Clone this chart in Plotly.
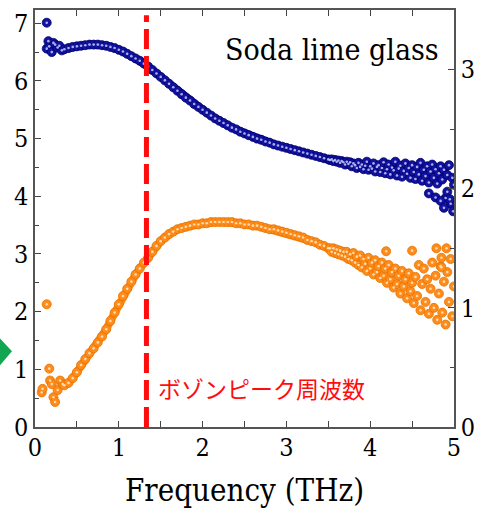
import plotly.graph_objects as go

# ---------------- data ----------------
# low-frequency scattered points
blue_low_freq = [0.14, 0.14, 0.16, 0.17, 0.20, 0.22, 0.24, 0.27, 0.29, 0.32]
blue_low = [7.01, 6.56, 6.69, 6.60, 6.50, 6.66, 6.63, 6.58, 6.61, 6.53]

orange_low_freq = [0.08, 0.09, 0.14, 0.17, 0.18, 0.20, 0.22, 0.24, 0.27, 0.30, 0.33]
orange_low = [0.29, 0.32, 1.03, 0.49, 0.39, 0.36, 0.25, 0.21, 0.31, 0.39, 0.36]

# smooth region (THz)
smooth_freq = [0.35, 0.40, 0.45, 0.50, 0.55, 0.60, 0.65, 0.70, 0.75, 0.80,
               0.85, 0.90, 0.95, 1.00, 1.05, 1.10, 1.15, 1.20, 1.25, 1.30,
               1.35, 1.40, 1.45, 1.50, 1.55, 1.60, 1.65, 1.70, 1.75, 1.80,
               1.85, 1.90, 1.95, 2.00, 2.05, 2.10, 2.15, 2.20, 2.25, 2.30,
               2.35, 2.40, 2.45, 2.50, 2.55, 2.60, 2.65, 2.70, 2.75, 2.80,
               2.85, 2.90, 2.95, 3.00, 3.05, 3.10, 3.15, 3.20, 3.25, 3.30,
               3.35, 3.40, 3.45, 3.50]
blue_smooth = [6.55, 6.57, 6.59, 6.60, 6.61, 6.62, 6.63, 6.63, 6.63, 6.62,
               6.61, 6.59, 6.57, 6.54, 6.51, 6.47, 6.43, 6.39, 6.35, 6.30,
               6.25, 6.19, 6.13, 6.07, 6.01, 5.95, 5.89, 5.83, 5.77, 5.71,
               5.66, 5.60, 5.55, 5.50, 5.45, 5.40, 5.35, 5.31, 5.27, 5.23,
               5.19, 5.16, 5.12, 5.09, 5.06, 5.03, 5.00, 4.98, 4.95, 4.93,
               4.90, 4.88, 4.86, 4.84, 4.82, 4.80, 4.78, 4.76, 4.74, 4.72,
               4.70, 4.68, 4.66, 4.64]
orange_smooth = [0.35, 0.37, 0.41, 0.46, 0.52, 0.57, 0.62, 0.66, 0.71, 0.76,
                 0.82, 0.89, 0.96, 1.03, 1.10, 1.16, 1.22, 1.28, 1.33, 1.38,
                 1.42, 1.47, 1.52, 1.56, 1.59, 1.62, 1.64, 1.66, 1.67, 1.68,
                 1.69, 1.70, 1.70, 1.71, 1.71, 1.72, 1.72, 1.72, 1.72, 1.72,
                 1.72, 1.71, 1.71, 1.70, 1.70, 1.69, 1.69, 1.68, 1.67, 1.66,
                 1.66, 1.65, 1.64, 1.63, 1.62, 1.61, 1.60, 1.59, 1.57, 1.56,
                 1.55, 1.53, 1.52, 1.50]

# noisy high-frequency region (THz)
noisy_freq = [3.52, 3.54, 3.56, 3.58, 3.60, 3.62, 3.64, 3.66, 3.68, 3.70,
              3.72, 3.74, 3.76, 3.78, 3.80, 3.82, 3.84, 3.86, 3.88, 3.90,
              3.92, 3.94, 3.96, 3.98, 4.00, 4.02, 4.04, 4.06, 4.08, 4.10,
              4.12, 4.14, 4.16, 4.18, 4.20, 4.22, 4.24, 4.26, 4.28, 4.30,
              4.32, 4.34, 4.36, 4.38, 4.40, 4.42, 4.44, 4.46, 4.48, 4.50,
              4.52, 4.54, 4.56, 4.58, 4.60, 4.62, 4.64, 4.66, 4.68, 4.70,
              4.72, 4.74, 4.76, 4.78, 4.80, 4.82, 4.84, 4.86, 4.88, 4.90,
              4.92, 4.94, 4.96, 4.98, 5.00]
blue_noisy = [4.63, 4.64, 4.61, 4.63, 4.60, 4.62, 4.58, 4.61, 4.59, 4.55,
              4.60, 4.56, 4.59, 4.52, 4.57, 4.54, 4.49, 4.58, 4.51, 4.55,
              4.47, 4.53, 4.60, 4.46, 4.52, 4.48, 4.57, 4.43, 4.51, 4.54,
              4.42, 4.49, 4.59, 4.40, 4.47, 4.55, 4.38, 4.50, 4.45, 4.60,
              4.36, 4.48, 4.53, 4.34, 4.44, 4.57, 4.39, 4.49, 4.32, 4.54,
              4.42, 4.30, 4.51, 4.38, 4.58, 4.27, 4.46, 4.35, 4.52, 4.24,
              4.43, 4.55, 4.32, 4.47, 4.22, 4.40, 4.52, 4.29, 4.46, 3.97,
              4.37, 4.54, 3.87, 4.32, 4.20]
orange_noisy = [1.50, 1.47, 1.50, 1.46, 1.49, 1.45, 1.48, 1.44, 1.47, 1.43,
                1.47, 1.41, 1.45, 1.40, 1.46, 1.38, 1.43, 1.36, 1.44, 1.34,
                1.41, 1.37, 1.31, 1.42, 1.33, 1.38, 1.28, 1.40, 1.30, 1.35,
                1.25, 1.38, 1.27, 1.33, 1.21, 1.36, 1.24, 1.30, 1.17, 1.33,
                1.20, 1.27, 1.12, 1.31, 1.18, 1.24, 1.08, 1.29, 1.14, 1.21,
                1.04, 1.26, 1.10, 1.36, 0.98, 1.20, 1.33, 1.05, 1.24, 0.95,
                1.16, 1.38, 1.00, 1.27, 0.90, 1.12, 1.35, 0.96, 1.22, 0.86,
                1.30, 1.05, 1.41, 0.93, 1.18]

# isolated outliers
blue_out_freq = [4.70, 4.78, 4.84, 4.88, 4.92, 4.95, 4.99]
blue_out = [4.05, 3.98, 3.92, 3.80, 4.08, 3.95, 3.74]
orange_out_freq = [4.19, 4.50, 4.79, 4.85, 4.85, 4.91]
orange_out = [1.475, 1.48, 1.50, 1.42, 1.34, 1.50]

BOSON_PEAK = 1.33  # THz

# ---------------- figure ----------------
blue_x = blue_low_freq + smooth_freq + noisy_freq + blue_out_freq
blue_y = blue_low + blue_smooth + blue_noisy + blue_out
orange_x = orange_low_freq + smooth_freq + noisy_freq + orange_out_freq
orange_y = orange_low + orange_smooth + orange_noisy + orange_out

BLUE, BLUE_EDGE, BLUE_HI = "#1212A0", "#00006A", "rgba(200,205,255,0.85)"
ORANGE, ORANGE_EDGE, ORANGE_HI = "#FF8C1A", "#E57200", "rgba(255,228,190,0.9)"

fig = go.Figure()
fig.add_trace(go.Scatter(x=smooth_freq, y=blue_smooth, mode="lines", yaxis="y",
                         line=dict(color=BLUE, width=7.5), showlegend=False,
                         hoverinfo="skip"))
fig.add_trace(go.Scatter(x=blue_x, y=blue_y, mode="markers", yaxis="y",
                         marker=dict(size=9, color=BLUE,
                                     line=dict(color=BLUE_EDGE, width=0.8)),
                         showlegend=False, hoverinfo="skip"))
fig.add_trace(go.Scatter(x=blue_x, y=blue_y, mode="markers", yaxis="y",
                         marker=dict(size=2.6, color=BLUE_HI),
                         showlegend=False, hoverinfo="skip"))
fig.add_trace(go.Scatter(x=smooth_freq, y=orange_smooth, mode="lines", yaxis="y2",
                         line=dict(color=ORANGE, width=8), showlegend=False,
                         hoverinfo="skip"))
fig.add_trace(go.Scatter(x=orange_x, y=orange_y, mode="markers", yaxis="y2",
                         marker=dict(size=9, color=ORANGE,
                                     line=dict(color=ORANGE_EDGE, width=0.8)),
                         showlegend=False, hoverinfo="skip"))
fig.add_trace(go.Scatter(x=orange_x, y=orange_y, mode="markers", yaxis="y2",
                         marker=dict(size=2.6, color=ORANGE_HI),
                         showlegend=False, hoverinfo="skip"))

SERIF = "DejaVu Serif Condensed, DejaVu Serif"
tickfont = dict(family=SERIF, size=25, color="black")
axis_common = dict(
    ticks="inside", ticklen=6, tickwidth=1.4, tickcolor="#444",
    showline=True, linecolor="#555", linewidth=1.5,
    showgrid=False, zeroline=False, tickfont=tickfont,
)
minor = dict(dtick=0.5, ticks="inside", ticklen=4, tickcolor="#444")

fig.update_layout(
    width=484, height=518,
    margin=dict(l=35, r=30, t=8, b=91),
    paper_bgcolor="white", plot_bgcolor="white",
    xaxis=dict(range=[0, 5], dtick=1, tick0=0, mirror="allticks",
               ticklabelstandoff=-3, minor=minor,
               title=dict(text="Frequency (THz)", standoff=19,
                          font=dict(family=SERIF, size=31, color="black")),
               **axis_common),
    yaxis=dict(range=[0, 7.23], dtick=1, tick0=0, minor=minor, **axis_common),
    yaxis2=dict(range=[0, 3.5], dtick=1, tick0=0, overlaying="y", side="right",
                minor=minor, **axis_common),
)

fig.add_shape(type="line", xref="x", yref="y", x0=BOSON_PEAK, x1=BOSON_PEAK,
              y0=0, y1=7.14, line=dict(color="#FF0D0D", width=5, dash="20px,7px"))

fig.add_annotation(text="ボゾンピーク周波数", xref="paper", yref="paper",
                   x=0.289, y=0.093, xanchor="left", yanchor="middle",
                   showarrow=False,
                   font=dict(family="Noto Sans CJK JP", size=23, color="#FF0D0D"))
fig.add_annotation(text="Soda lime glass", xref="paper", yref="paper",
                   x=0.969, y=0.905, xanchor="right", yanchor="middle",
                   showarrow=False,
                   font=dict(family=SERIF, size=30, color="black"))

fig.add_shape(type="path", xref="paper", yref="paper",
              path="M -0.0835 0.2124 L -0.0549 0.1814 L -0.0835 0.148 L -0.1122 0.1814 Z",
              fillcolor="#13A652", line=dict(width=0))

fig.write_html("out.html", config={"displayModeBar": False},
               post_script="document.body.style.margin='0px';")
